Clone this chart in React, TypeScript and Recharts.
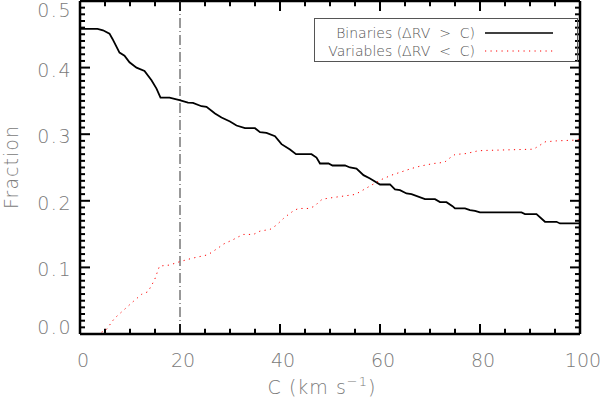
import React from 'react';
import { LineChart, Line, XAxis, YAxis, ReferenceLine, Legend } from 'recharts';

// cumulative fractions
const binC = [0, 3.5, 4.6, 5.9, 6.5, 7.9, 8.9, 9.9, 11.3, 12.9, 14.3, 15.3, 16.1, 17.9, 19.9, 21.6, 22.6, 24.3, 25.3, 27, 28.3, 30, 31.3, 33, 35, 36, 37.3, 39, 40.3, 42, 43.2, 46.3, 47.3, 48, 49.7, 50.5, 53, 54, 55.3, 56.7, 58, 60, 62, 63, 64, 65.3, 66.3, 69, 71, 72, 73.3, 74.5, 75, 77, 78, 79, 80, 88.3, 89, 91.3, 93, 95.3, 96, 100];
const binFrac = [0.458, 0.458, 0.456, 0.451, 0.443, 0.4225, 0.418, 0.408, 0.4, 0.395, 0.381, 0.3685, 0.355, 0.355, 0.351, 0.3475, 0.347, 0.342, 0.341, 0.331, 0.325, 0.319, 0.313, 0.309, 0.309, 0.303, 0.302, 0.297, 0.285, 0.277, 0.27, 0.27, 0.265, 0.256, 0.256, 0.253, 0.253, 0.25, 0.2485, 0.2385, 0.2335, 0.2245, 0.2245, 0.217, 0.216, 0.211, 0.21, 0.2025, 0.2025, 0.198, 0.198, 0.192, 0.1885, 0.1885, 0.186, 0.185, 0.1825, 0.1825, 0.18, 0.18, 0.1685, 0.1685, 0.166, 0.166];

const varC = [0, 3.6, 5.2, 6.9, 8.9, 10.6, 12.3, 13.6, 14.9, 15.9, 17.9, 19.9, 22.3, 25.3, 26, 27.7, 28.7, 30.7, 31.7, 32.7, 34.7, 36, 38, 39.3, 40.7, 41.7, 42.7, 43.7, 45.7, 47, 47.7, 48.5, 50.7, 55, 56, 58.3, 60.3, 62.3, 64.3, 66.3, 68, 70.7, 72, 73, 74, 75, 77.3, 79.3, 80.5, 90.7, 92, 93, 95.3, 98.7, 100];
const varFrac = [0, 0, 0.006, 0.0235, 0.037, 0.0485, 0.0595, 0.0635, 0.081, 0.102, 0.1035, 0.1085, 0.1135, 0.1185, 0.121, 0.1295, 0.135, 0.142, 0.146, 0.1495, 0.1495, 0.1545, 0.157, 0.1635, 0.1735, 0.1795, 0.185, 0.1885, 0.1885, 0.192, 0.198, 0.2025, 0.205, 0.2095, 0.2135, 0.2235, 0.232, 0.2385, 0.2435, 0.2485, 0.252, 0.256, 0.257, 0.2585, 0.2645, 0.2695, 0.271, 0.2745, 0.2755, 0.2775, 0.2835, 0.2885, 0.29, 0.291, 0.292];

const xMajor = [0, 20, 40, 60, 80, 100];
const yMajor = [0, 0.1, 0.2, 0.3, 0.4, 0.5];
const xMinor = Array.from({ length: 21 }, (_, i) => i * 5);
const yMinor = Array.from({ length: 51 }, (_, i) => i / 100);
const xMin = 0, xMax = 100, yMin = 0, yMax = 0.5;
const cutC = 20;

const seriesNames = ['Binaries (\u0394RV  >  C)', 'Variables (\u0394RV  <  C)'];

const binData = binC.map((c, i) => ({ c, f: binFrac[i] }));
const varData = varC.map((c, i) => ({ c, f: varFrac[i] }));

const font = '"DejaVu Sans", sans-serif';
const labelColor = '#7a7a7a';
const redDots = '1.2 4.3';
const frame = { stroke: '#000', strokeWidth: 2.5 };

// inward tick lengths, in axis units (x: 5 px per unit, y: ~667 px per unit)
const xTickLen = (v: number) => (xMajor.includes(v) ? 0.015 : 0.008);
const yTickLen = (v: number) => (yMajor.some((m) => Math.abs(m - v) < 1e-6) ? 2 : 1);

const bottomLabel = (props: any) => {
  const { x, y, payload } = props;
  return (
    <text x={x + 3} y={y + 33} textAnchor="middle" fontFamily={font} fontWeight={200} fontSize={19} fill={labelColor}>
      {payload.value}
    </text>
  );
};

const leftLabel = (props: any) => {
  const { x, y, payload } = props;
  const base = Math.min(334, Math.max(17, y + 9));
  return (
    <text x={x - 8} y={base} textAnchor="end" fontFamily={font} fontWeight={200} fontSize={19} letterSpacing={1.5} fill={labelColor}>
      {payload.value.toFixed(1)}
    </text>
  );
};

function LegendBox() {
  const rows = [
    { name: seriesNames[0], dash: undefined, color: '#000', top: 6 },
    { name: seriesNames[1], dash: redDots, color: '#ff0000', top: 24 },
  ];
  return (
    <div style={{ position: 'relative', border: '1px solid #555', width: 262, height: 42, fontFamily: font, fontWeight: 200, fontSize: 14, color: '#555' }}>
      {rows.map((r) => (
        <React.Fragment key={r.name}>
          <span style={{ position: 'absolute', right: 102, top: r.top, lineHeight: '16px', whiteSpace: 'pre' }}>{r.name}</span>
          <svg style={{ position: 'absolute', left: 170, top: r.top }} width={70} height={16}>
            <line x1={0} x2={68} y1={8} y2={8} stroke={r.color} strokeWidth={r.dash ? 1 : 1.5} strokeDasharray={r.dash} />
          </svg>
        </React.Fragment>
      ))}
    </div>
  );
}

const axisIds = { xAxisId: 'b', yAxisId: 'l' };
const tickStyle = { stroke: '#000', strokeWidth: 2, ifOverflow: 'visible' as const };

export default function App() {
  return (
    <div style={{ position: 'absolute', left: 0, top: 0, background: '#fff' }}>
      <LineChart width={600} height={397} margin={{ top: 1, right: 20, bottom: 23, left: 10 }}>
        <XAxis xAxisId="b" dataKey="c" type="number" domain={[xMin, xMax]} allowDataOverflow ticks={xMajor} interval={0} height={40} tickSize={0} tickMargin={0} tickLine={false} tick={bottomLabel} axisLine={frame} />
        <YAxis yAxisId="l" type="number" domain={[yMin, yMax]} allowDataOverflow ticks={yMajor} interval={0} width={70} tickSize={0} tickMargin={0} tickLine={false} tick={leftLabel} axisLine={frame} />
        {/* top and right frame */}
        <ReferenceLine {...axisIds} y={yMax} stroke="#000" strokeWidth={2.5} ifOverflow="visible" />
        <ReferenceLine {...axisIds} x={xMax} stroke="#000" strokeWidth={2.5} ifOverflow="visible" />
        {/* inward minor/major ticks on all four sides */}
        {xMinor.map((v) => (
          <ReferenceLine key={`xb${v}`} {...axisIds} {...tickStyle} segment={[{ x: v, y: yMin }, { x: v, y: yMin + xTickLen(v) }]} />
        ))}
        {xMinor.map((v) => (
          <ReferenceLine key={`xt${v}`} {...axisIds} {...tickStyle} segment={[{ x: v, y: yMax }, { x: v, y: yMax - xTickLen(v) }]} />
        ))}
        {yMinor.map((v) => (
          <ReferenceLine key={`yl${v}`} {...axisIds} {...tickStyle} segment={[{ x: xMin, y: v }, { x: xMin + yTickLen(v), y: v }]} />
        ))}
        {yMinor.map((v) => (
          <ReferenceLine key={`yr${v}`} {...axisIds} {...tickStyle} segment={[{ x: xMax, y: v }, { x: xMax - yTickLen(v), y: v }]} />
        ))}
        <ReferenceLine {...axisIds} x={cutC} stroke="#333" strokeWidth={1} strokeDasharray="10 3 1 3" />
        <Line {...axisIds} data={binData} dataKey="f" type="linear" stroke="#000" strokeWidth={1.8} dot={false} isAnimationActive={false} />
        <Line {...axisIds} data={varData} dataKey="f" type="linear" stroke="#ff0000" strokeWidth={1} strokeDasharray={redDots} dot={false} isAnimationActive={false} />
        <Legend
          layout="vertical"
          align="center"
          verticalAlign="middle"
          content={() => <LegendBox />}
          wrapperStyle={{ left: 314, top: 18, width: 264, height: 44 }}
        />
        <text x={0} y={0} transform="translate(18,167) rotate(-90)" textAnchor="middle" fontFamily={font} fontWeight={200} fontSize={19} letterSpacing={1} fill={labelColor}>
          Fraction
        </text>
        <text x={322} y={394} textAnchor="middle" fontFamily={font} fontWeight={200} fontSize={19} letterSpacing={1} fill={labelColor}>
          C (km s<tspan dy={-8} fontSize={13}>{'\u22121'}</tspan><tspan dy={8}>)</tspan>
        </text>
      </LineChart>
    </div>
  );
}
